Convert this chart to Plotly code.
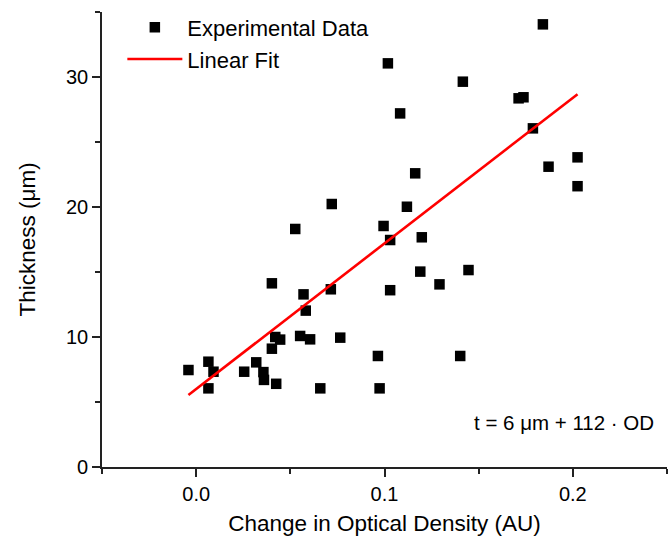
import plotly.graph_objects as go

od_change = [-0.0041, 0.0065, 0.0092, 0.0065, 0.0255, 0.0319, 0.0357, 0.0360, 0.0425,
             0.0420, 0.0446, 0.0402, 0.0402, 0.0552, 0.0570, 0.0582, 0.0605, 0.0659,
             0.0715, 0.0765, 0.0720, 0.0526, 0.0965, 0.0974, 0.0995, 0.1030, 0.1030,
             0.1083, 0.1018, 0.1119, 0.1163, 0.1198, 0.1190, 0.1292, 0.1402, 0.1416,
             0.1446, 0.1712, 0.1738, 0.1788, 0.1841, 0.1871, 0.2025, 0.2025]
thickness = [7.46, 8.10, 7.33, 6.05, 7.33, 8.05, 7.30, 6.70, 6.40,
             10.00, 9.80, 9.10, 14.13, 10.08, 13.28, 12.03, 9.82, 6.05,
             13.67, 9.95, 20.23, 18.31, 8.54, 6.05, 18.54, 17.46, 13.60,
             27.20, 31.05, 20.02, 22.59, 17.67, 15.03, 14.05, 8.54, 29.64,
             15.15, 28.36, 28.44, 26.05, 34.05, 23.10, 23.82, 21.60]

# Linear fit parameters (t = 6 um + 112 * OD)
fit_intercept = 6.0
fit_slope = 112.0
fit_x = [min(od_change), max(od_change)]
fit_y = [fit_intercept + fit_slope * v for v in fit_x]

x_ticks = [0.0, 0.1, 0.2]
x_ticklabels = ["0.0", "0.1", "0.2"]
y_ticks = [0, 10, 20, 30]
y_ticklabels = ["0", "10", "20", "30"]

FONT = "Liberation Sans, Arial, sans-serif"
AXCOL = "#222222"

fig = go.Figure()
fig.add_trace(go.Scatter(
    x=od_change, y=thickness, mode="markers", name="Experimental Data",
    marker=dict(symbol="square", size=10.5, color="black", line=dict(width=0)),
))
fig.add_trace(go.Scatter(
    x=fit_x, y=fit_y, mode="lines", name="Linear Fit",
    line=dict(color="#ff0000", width=2.6),
))

fig.add_annotation(
    text="t = 6 \u03bcm + 112 \u00b7 OD", xref="paper", yref="paper",
    x=0.98, y=0.097, xanchor="right", yanchor="middle", showarrow=False,
    font=dict(family=FONT, size=20.5, color="black"),
)

fig.update_layout(
    width=672, height=542,
    margin=dict(l=102, r=5, t=12, b=75),
    paper_bgcolor="white", plot_bgcolor="white",
    font=dict(family=FONT, color="black"),
    showlegend=True,
    legend=dict(
        x=0.036, y=1.012, xanchor="left", yanchor="top",
        bgcolor="rgba(0,0,0,0)", font=dict(family=FONT, size=22, color="black"),
        itemwidth=55, tracegroupgap=0,
    ),
    xaxis=dict(
        range=[-0.05, 0.25], showgrid=False, zeroline=False,
        showline=True, linecolor=AXCOL, linewidth=1.6,
        tickmode="array", tickvals=x_ticks, ticktext=x_ticklabels,
        ticks="outside", ticklen=8, tickwidth=1.6, tickcolor=AXCOL,
        tickfont=dict(family=FONT, size=20, color="black"),
        minor=dict(dtick=0.05, tick0=0, ticks="outside", ticklen=5, tickwidth=1.6, tickcolor=AXCOL),
        title=dict(text="Change in Optical Density (AU)", font=dict(family=FONT, size=22.5, color="black"), standoff=11),
    ),
    yaxis=dict(
        range=[0, 35], showgrid=False, zeroline=False,
        showline=True, linecolor=AXCOL, linewidth=1.6,
        tickmode="array", tickvals=y_ticks, ticktext=y_ticklabels,
        ticks="outside", ticklen=8, tickwidth=1.6, tickcolor=AXCOL,
        tickfont=dict(family=FONT, size=20, color="black"),
        minor=dict(dtick=5, tick0=0, ticks="outside", ticklen=5, tickwidth=1.6, tickcolor=AXCOL),
        title=dict(text="Thickness (\u03bcm)", font=dict(family=FONT, size=22.5, color="black"), standoff=24),
    ),
)

fig.write_html("out.html")
